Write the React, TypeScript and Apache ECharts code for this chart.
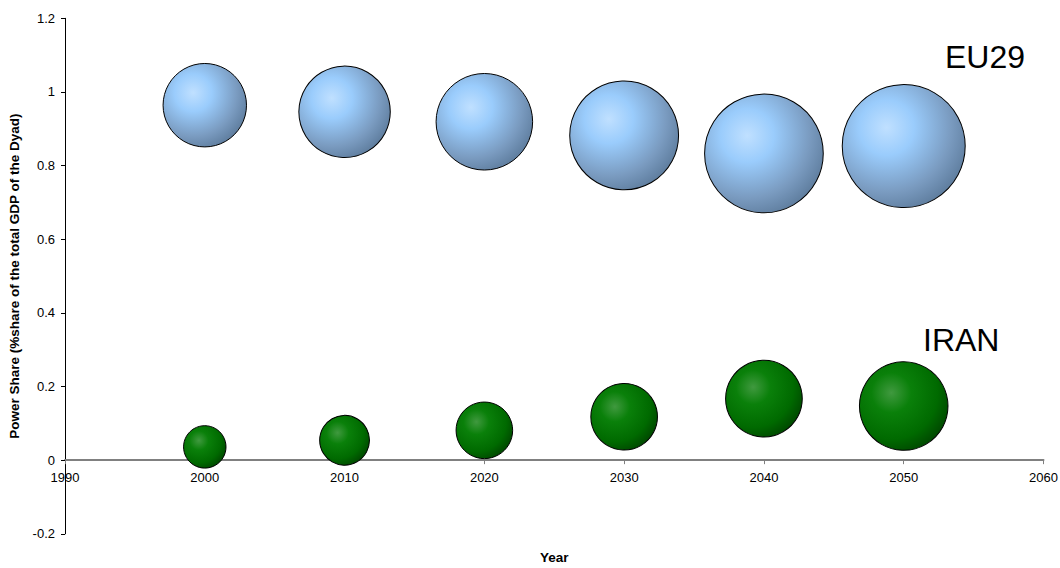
import React, { useEffect, useRef } from "react";
import * as echarts from "echarts";

// Years on the horizontal axis
const years = [2000, 2010, 2020, 2030, 2040, 2050];

// Power share of each party in the dyad (share of total GDP)
const euShare = [0.964, 0.946, 0.919, 0.882, 0.833, 0.853];
const iranShare = [0.036, 0.054, 0.081, 0.118, 0.167, 0.147];

// Relative bubble sizes (bubble area is proportional to these)
const euSize = [17.4, 20.9, 23.3, 29.6, 35.2, 37.8];
const iranSize = [4.5, 6.2, 8.0, 11.1, 14.7, 19.6];

// Axis ranges and tick step
const xMin = 1990;
const xMax = 2060;
const xStep = 10;
const yMin = -0.2;
const yMax = 1.2;
const yStep = 0.2;

const WIDTH = 1060;
const HEIGHT = 568;
const GRID = { left: 65, right: 16.5, top: 18.3, bottom: 34.2 };

const FONT = "'Liberation Sans', Arial, Helvetica, sans-serif";

const bubbleDiameter = (size: number) => 20 * Math.sqrt(size);

const buildData = (shares: number[], sizes: number[]) =>
  years.map((y, i) => [y, shares[i], sizes[i]]);

// The year axis crosses the value axis at zero: lift it from the grid bottom
const plotHeight = HEIGHT - GRID.top - GRID.bottom;
const zeroLift = (plotHeight * (0 - yMin)) / (yMax - yMin);

const blueFill = {
  type: "radial",
  x: 0.36,
  y: 0.35,
  r: 0.75,
  colorStops: [
    { offset: 0, color: "#C0E0FF" },
    { offset: 0.3, color: "#9ACCFC" },
    { offset: 0.7, color: "#7A9BC0" },
    { offset: 1, color: "#587696" },
  ],
};

const greenFill = {
  type: "radial",
  x: 0.36,
  y: 0.35,
  r: 0.75,
  colorStops: [
    { offset: 0, color: "#40993F" },
    { offset: 0.3, color: "#0A800A" },
    { offset: 0.7, color: "#006A00" },
    { offset: 1, color: "#004000" },
  ],
};

const labelText = {
  fontFamily: FONT,
  fontSize: 13,
  color: "#000",
};

const titleText = {
  fontFamily: FONT,
  fontSize: 13.5,
  fontWeight: "bold",
  color: "#000",
};

export default function App() {
  const ref = useRef<HTMLDivElement>(null);

  useEffect(() => {
    document.body.style.margin = "0";
    if (!ref.current) return;
    const chart = echarts.init(ref.current, null, { renderer: "svg" });

    chart.setOption({
      animation: false,
      backgroundColor: "#ffffff",
      grid: {
        ...GRID,
        containLabel: false,
        outerBoundsMode: "none",
      },
      xAxis: {
        type: "value",
        min: xMin,
        max: xMax,
        interval: xStep,
        offset: -zeroLift,
        name: "Year",
        nameLocation: "middle",
        nameGap: 90,
        nameTextStyle: titleText,
        axisLine: {
          onZero: false,
          lineStyle: { color: "#808080", width: 2 },
        },
        axisTick: {
          show: true,
          length: 4,
          lineStyle: { color: "#808080", width: 1 },
        },
        axisLabel: {
          ...labelText,
          margin: 11,
          formatter: (v: number) => String(v),
        },
        splitLine: { show: false },
      },
      yAxis: {
        type: "value",
        min: yMin,
        max: yMax,
        interval: yStep,
        name: "Power Share (%share of the total GDP of the Dyad)",
        nameLocation: "middle",
        nameGap: 43,
        nameTextStyle: titleText,
        axisLine: {
          show: true,
          onZero: false,
          lineStyle: { color: "#000", width: 1 },
        },
        axisTick: {
          show: true,
          length: 4,
          lineStyle: { color: "#000", width: 1 },
        },
        axisLabel: {
          ...labelText,
          margin: 10,
          formatter: (v: number) => String(Math.round(v * 10) / 10),
        },
        splitLine: { show: false },
      },
      series: [
        {
          name: "EU29",
          type: "scatter",
          data: buildData(euShare, euSize),
          symbol: "circle",
          symbolSize: (d: number[]) => bubbleDiameter(d[2]),
          itemStyle: {
            color: blueFill,
            borderColor: "#000",
            borderWidth: 1,
            opacity: 1,
          },
          emphasis: { disabled: true },
          z: 3,
        },
        {
          name: "IRAN",
          type: "scatter",
          data: buildData(iranShare, iranSize),
          symbol: "circle",
          symbolSize: (d: number[]) => bubbleDiameter(d[2]),
          itemStyle: {
            color: greenFill,
            borderColor: "#000",
            borderWidth: 1,
            opacity: 1,
          },
          emphasis: { disabled: true },
          z: 3,
        },
      ],
      graphic: [
        {
          type: "text",
          left: 945,
          top: 41,
          style: {
            text: "EU29",
            fontFamily: FONT,
            fontSize: 32,
            fill: "#000",
          },
        },
        {
          type: "text",
          left: 923,
          top: 324,
          style: {
            text: "IRAN",
            fontFamily: FONT,
            fontSize: 32,
            fill: "#000",
          },
        },
      ],
    });

    return () => {
      chart.dispose();
    };
  }, []);

  return <div ref={ref} style={{ width: WIDTH, height: HEIGHT }} />;
}
